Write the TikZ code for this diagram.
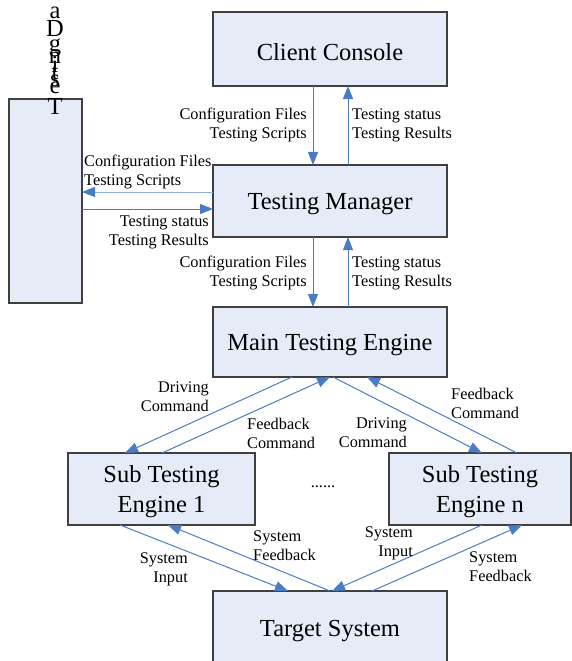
\documentclass[tikz,border=0pt]{standalone}
\usepackage{fontspec}
\setmainfont{Liberation Serif}
\usetikzlibrary{arrows.meta,calc}
\definecolor{boxfill}{HTML}{E6ECF7}
\definecolor{boxline}{HTML}{404040}
\definecolor{arr}{HTML}{4A7CC4}
\definecolor{arrlight}{HTML}{8EABD9}
\newcommand{\dn}[1]{\raisebox{-3bp}[\height][\depth]{#1}}
\begin{document}
\begin{tikzpicture}[x=1bp,y=-1bp,
  box/.style={draw=boxline, line width=1.2bp, fill=boxfill, inner sep=0pt, outer sep=0pt,
    font=\fontsize{24.5bp}{30bp}\selectfont, align=center},
  lbl/.style={font=\fontsize{16.3bp}{19bp}\selectfont, inner sep=0pt},
  flow/.style={draw=arr, line width=1bp, -{Triangle[length=13bp,width=10bp,color=arr]}},
  letter/.style={font=\fontsize{24.5bp}{24.5bp}\selectfont, inner sep=0pt, anchor=base}]
\path[use as bounding box] (0,0) rectangle (572,661);
\clip (0,0) rectangle (572,661);
% boxes
\node[box, minimum width=234bp, minimum height=74bp] (cc) at (330,49) {\dn{Client Console}};
\node[box, minimum width=234bp, minimum height=72bp] (tm) at (330,201) {\dn{Testing Manager}};
\node[box, minimum width=234bp, minimum height=70bp] (mte) at (330,342) {\dn{Main Testing Engine}};
\node[box, minimum width=187bp, minimum height=72bp] (s1) at (161.5,489) {\dn{Sub Testing}\\\dn{Engine 1}};
\node[box, minimum width=182bp, minimum height=72bp] (sn) at (480,489) {\dn{Sub Testing}\\\dn{Engine n}};
\node[box, minimum width=234bp, minimum height=74bp] (ts) at (330,628) {\dn{Target System}};
\node[box, minimum width=73bp, minimum height=204bp] (db) at (45.5,201) {};
% stacked letters
\node[letter] (l1) at (55,115) {T};
\node[letter] (l2) at (55,94) {e};
\node[letter] (l3) at (55,87) {s};
\node[letter] (l4) at (55,80) {t};
\node[letter] (l5) at (55,73) {i};
\node[letter] (l6) at (55,64) {n};
\node[letter] (l7) at (55,52) {g};
\node[letter] (l8) at (55,37) {D};
\node[letter] (l9) at (55,19) {a};
% vertical arrows
\draw[flow] ($(cc.south)+(-17,0)$) -- ($(tm.north)+(-17,0)$);
\draw[flow] ($(tm.north)+(18,0)$) -- ($(cc.south)+(18,0)$);
\draw[flow] ($(tm.south)+(-17,0)$) -- ($(mte.north)+(-17,0)$);
\draw[flow] ($(mte.north)+(18,0)$) -- ($(tm.south)+(18,0)$);
% horizontal arrows
\draw[flow, draw=arrlight] ($(tm.west)+(0,-9)$) -- ($(db.east)+(0,-9)$);
\draw[flow] ($(db.east)+(0,8)$) -- ($(tm.west)+(0,8)$);
% diagonal arrows top
\draw[flow] ($(mte.south)+(-38,0)$) -- ($(s1.north)+(-36.5,0)$);
\draw[flow] ($(s1.north)+(0.5,0)$) -- ($(mte.south)+(0,0)$);
\draw[flow] ($(mte.south)+(3,0)$) -- ($(sn.north)+(2,0)$);
\draw[flow] ($(sn.north)+(37,0)$) -- ($(mte.south)+(37,0)$);
% diagonal arrows bottom
\draw[flow] ($(s1.south)+(-41.5,0)$) -- ($(ts.north)+(-42,0)$);
\draw[flow] ($(ts.north)+(0,0)$) -- ($(s1.south)+(6.5,0)$);
\draw[flow] ($(sn.south)+(2,0)$) -- ($(ts.north)+(2,0)$);
\draw[flow] ($(ts.north)+(42,0)$) -- ($(sn.south)+(42,0)$);
% labels
\node[lbl, align=right, anchor=east] (a1) at (307,125) {Configuration Files\\Testing Scripts};
\node[lbl, align=left, anchor=west] (a2) at (352,125) {Testing status\\Testing Results};
\node[lbl, align=left, anchor=west] (a3) at (84,172) {Configuration Files\\Testing Scripts};
\node[lbl, align=right, anchor=east] (a4) at (209,232) {Testing status\\Testing Results};
\node[lbl, align=right, anchor=east] (a5) at (307,273) {Configuration Files\\Testing Scripts};
\node[lbl, align=left, anchor=west] (a6) at (352,273) {Testing status\\Testing Results};
\node[lbl, align=right, anchor=east] (a7) at (209,397) {Driving\\Command};
\node[lbl, align=left, anchor=west] (a8) at (247,433) {Feedback\\Command};
\node[lbl, align=right, anchor=east] (a9) at (407,433) {Driving\\Command};
\node[lbl, align=left, anchor=west] (a10) at (451,403) {Feedback\\Command};
\node[lbl, align=right, anchor=east] (a11) at (188,569) {System\\Input};
\node[lbl, align=left, anchor=west] (a12) at (253,546) {System\\Feedback};
\node[lbl, align=right, anchor=east] (a13) at (413,543) {System\\Input};
\node[lbl, align=left, anchor=west] (a14) at (469,567) {System\\Feedback};
\node[lbl] (dots) at (323,487) {......};
\end{tikzpicture}
\end{document}
